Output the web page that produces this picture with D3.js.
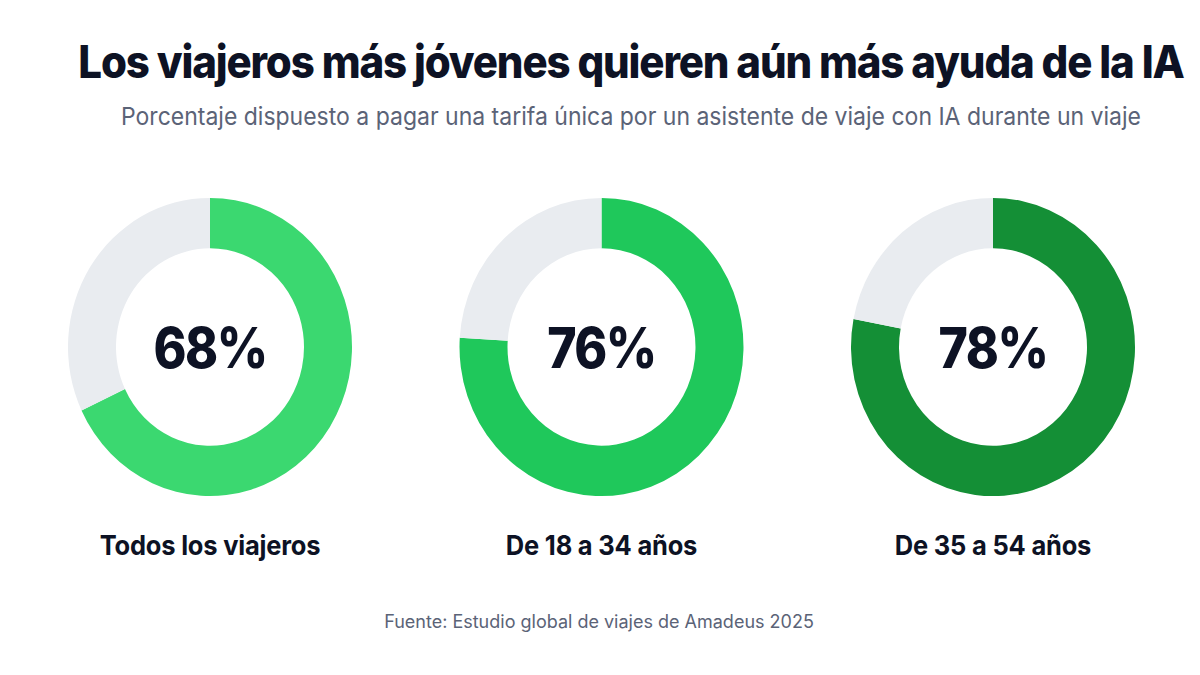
<!DOCTYPE html>
<html lang="es">
  <head>
    <meta charset="utf-8">
    <title>Los viajeros más jóvenes quieren aún más ayuda de la IA</title>
    <script src="https://d3js.org/d3.v7.min.js" charset="utf-8"></script>
    <style type="text/css">
      body {
        margin: 0;
        background: #ffffff;
        font-family: "Inter", "Roboto", sans-serif;
      }
    </style>
  </head>
  <body>
    <script>
      var width = 1200;
      var height = 675;

      // chart data
      var groups = ["Todos los viajeros", "De 18 a 34 años", "De 35 a 54 años"];
      var values = [68, 76, 78];
      var colors = ["#3bd870", "#1fc85b", "#148f36"];
      var restColor = "#e9ecf0";

      var title = "Los viajeros más jóvenes quieren aún más ayuda de la IA";
      var subtitle = "Porcentaje dispuesto a pagar una tarifa única por un asistente de viaje con IA durante un viaje";
      var source = "Fuente: Estudio global de viajes de Amadeus 2025";

      var svg = d3.select("body")
        .append("svg")
        .attr("width", width)
        .attr("height", height);

      // title and subtitle (the reference type is a little taller than wide)
      svg.append("text")
        .attr("transform", "translate(631,78) scale(1,1.08)")
        .attr("text-anchor", "middle")
        .attr("font-size", 42)
        .attr("font-weight", 800)
        .attr("letter-spacing", -1.15)
        .attr("fill", "#0d1224")
        .text(title);

      svg.append("text")
        .attr("transform", "translate(631,125) scale(1,1.05)")
        .attr("text-anchor", "middle")
        .attr("font-size", 23)
        .attr("fill", "#5b6377")
        .text(subtitle);

      // one x position per group
      var x = d3.scalePoint()
        .domain(groups)
        .range([210, 993]);

      var pie = d3.pie().sort(null).value(function(d) { return d; });
      var arc = d3.arc().innerRadius(94).outerRadius(142);

      var donut = svg.selectAll("g.donut")
        .data(groups)
        .enter()
        .append("g")
        .attr("class", "donut")
        .attr("transform", function(d) { return "translate(" + x(d) + ",347)"; });

      // rings (slightly taller than wide, as in the reference)
      donut.append("g")
        .attr("transform", "scale(1,1.05)")
        .selectAll("path")
        .data(function(d, i) {
          return pie([values[i], 100 - values[i]]).map(function(p, j) {
            p.fill = j === 0 ? colors[i] : restColor;
            return p;
          });
        })
        .enter()
        .append("path")
        .attr("d", arc)
        .attr("fill", function(p) { return p.fill; });

      // big percentage in the middle
      donut.append("text")
        .attr("transform", "translate(0,21) scale(1,1.12)")
        .attr("text-anchor", "middle")
        .attr("font-size", 50)
        .attr("font-weight", 800)
        .attr("letter-spacing", -1.5)
        .attr("fill", "#0d1224")
        .text(function(d, i) { return values[i] + "%"; });

      // labels under the donuts
      donut.append("text")
        .attr("transform", "translate(0,208) scale(1,1.08)")
        .attr("text-anchor", "middle")
        .attr("font-size", 25.5)
        .attr("font-weight", 700)
        .attr("letter-spacing", -0.2)
        .attr("fill", "#0d1224")
        .text(function(d) { return d; });

      svg.append("text")
        .attr("x", 599)
        .attr("y", 628)
        .attr("text-anchor", "middle")
        .attr("font-size", 18)
        .attr("fill", "#5b6377")
        .text(source);
    </script>
  </body>
</html>
